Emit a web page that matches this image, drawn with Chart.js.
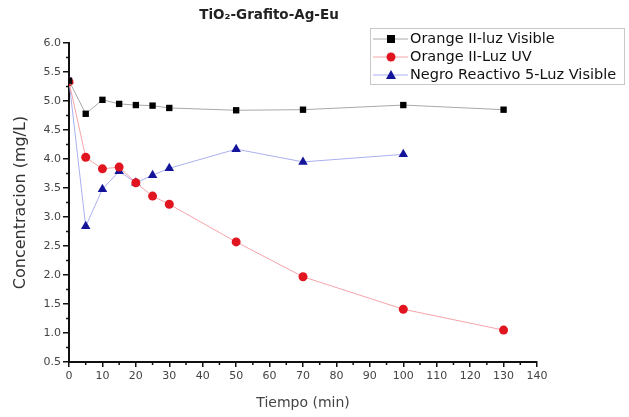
<!DOCTYPE html>
<html>
<head>
<meta charset="utf-8">
<script src="https://cdn.jsdelivr.net/npm/chart.js@4.4.1/dist/chart.umd.min.js"></script>
<style>
  html, body { margin: 0; padding: 0; background: #ffffff; }
  #wrap { width: 629px; height: 417px; }
</style>
</head>
<body>
<div id="wrap"><canvas id="c" width="629" height="417"></canvas></div>
<script>
// ---- data ----
const chartTitle = 'TiO\u2082-Grafito-Ag-Eu';
const xAxisTitle = 'Tiempo (min)';
const yAxisTitle = 'Concentracion (mg/L)';
const seriesNames = ['Orange II-luz Visible', 'Orange II-Luz UV', 'Negro Reactivo 5-Luz Visible'];
const timeOrange = [0, 5, 10, 15, 20, 25, 30, 50, 70, 100, 130];
const orangeVisible = [5.35, 4.78, 5.02, 4.95, 4.93, 4.92, 4.88, 4.84, 4.85, 4.93, 4.85];
const orangeUV = [5.33, 4.03, 3.83, 3.86, 3.59, 3.36, 3.22, 2.57, 1.97, 1.41, 1.05];
const timeNegro = [0, 5, 10, 15, 20, 25, 30, 50, 70, 100];
const negroVisible = [5.35, 2.84, 3.48, 3.79, 3.59, 3.72, 3.84, 4.17, 3.95, 4.08];
const xMin = 0, xMax = 140, xStep = 10;
const yMin = 0.5, yMax = 6.0, yStep = 0.5;

function pts(xs, ys) { return xs.map((x, i) => ({ x: x, y: ys[i] })); }

const FONT = '"DejaVu Sans", Verdana, sans-serif';

const minorTicks = {
  id: 'minorTicks',
  afterDraw(chart) {
    const ctx = chart.ctx;
    const xs = chart.scales.x, ys = chart.scales.y;
    const a = chart.chartArea;
    ctx.save();
    ctx.strokeStyle = '#111';
    ctx.lineWidth = 1.5;
    ctx.beginPath();
    for (let v = xMin + xStep / 2; v < xMax; v += xStep) {
      const px = xs.getPixelForValue(v);
      ctx.moveTo(px, a.bottom); ctx.lineTo(px, a.bottom + 3);
    }
    for (let v = yMin + yStep / 2; v < yMax; v += yStep) {
      const py = ys.getPixelForValue(v);
      ctx.moveTo(a.left, py); ctx.lineTo(a.left - 3, py);
    }
    ctx.stroke();
    ctx.restore();
  }
};

const customText = {
  id: 'customText',
  afterDraw(chart) {
    const ctx = chart.ctx;
    ctx.save();
    // title
    ctx.fillStyle = '#222';
    ctx.font = 'bold 13.5px ' + FONT;
    ctx.textAlign = 'center';
    ctx.textBaseline = 'middle';
    ctx.fillText(chartTitle, 269, 15);
    // legend
    const bx = 370, by = 28, bw = 254, bh = 56;
    ctx.strokeStyle = '#c8c8c8';
    ctx.lineWidth = 1;
    ctx.strokeRect(bx + 0.5, by + 0.5, bw, bh);
    const rowY = [39, 57, 75];
    ctx.beginPath();
    ctx.rect(bx, by, bw, bh);
    ctx.clip();
    chart.data.datasets.forEach((ds, i) => {
      const y = rowY[i];
      ctx.strokeStyle = ds.borderColor;
      ctx.lineWidth = 1;
      ctx.beginPath();
      ctx.moveTo(bx + 3, y); ctx.lineTo(bx + 38, y);
      ctx.stroke();
      ctx.fillStyle = ds.pointBackgroundColor;
      const mx = bx + 21;
      if (ds.pointStyle === 'rect') {
        ctx.fillRect(mx - 4, y - 4, 8, 8);
      } else if (ds.pointStyle === 'circle') {
        ctx.beginPath(); ctx.arc(mx, y, 4.5, 0, Math.PI * 2); ctx.fill();
      } else {
        ctx.beginPath(); ctx.moveTo(mx, y - 5); ctx.lineTo(mx + 5, y + 4); ctx.lineTo(mx - 5, y + 4); ctx.closePath(); ctx.fill();
      }
      ctx.fillStyle = '#111';
      ctx.font = '14.5px ' + FONT;
      ctx.textAlign = 'left';
      ctx.fillText(ds.label, bx + 40, y);
    });
    ctx.restore();
  }
};

new Chart(document.getElementById('c'), {
  type: 'scatter',
  data: {
    datasets: [
      {
        label: seriesNames[0], data: pts(timeOrange, orangeVisible), showLine: true,
        borderColor: '#a8a8a8', borderWidth: 1, pointStyle: 'rect', pointRadius: 4.5,
        pointBackgroundColor: '#000', pointBorderColor: '#000', pointBorderWidth: 0
      },
      {
        label: seriesNames[1], data: pts(timeOrange, orangeUV), showLine: true,
        borderColor: '#f5a3a8', borderWidth: 1, pointStyle: 'circle', pointRadius: 4.5,
        pointBackgroundColor: '#e0151f', pointBorderColor: '#e0151f', pointBorderWidth: 0
      },
      {
        label: seriesNames[2], data: pts(timeNegro, negroVisible), showLine: true,
        borderColor: '#a9b0f0', borderWidth: 1, pointStyle: 'triangle', pointRadius: 5.5,
        pointBackgroundColor: '#14149a', pointBorderColor: '#14149a', pointBorderWidth: 0
      }
    ]
  },
  options: {
    responsive: false,
    animation: false,
    devicePixelRatio: 1,
    layout: { padding: { left: 0, right: 92, top: 43, bottom: 0 } },
    plugins: { legend: { display: false }, title: { display: false }, tooltip: { enabled: false } },
    scales: {
      x: {
        type: 'linear', min: xMin, max: xMax,
        afterFit(s) { s.height = 55; },
        border: { display: true, color: '#111', width: 2 },
        grid: { drawOnChartArea: false, drawTicks: true, tickLength: 5, color: '#111', lineWidth: 1.5 },
        ticks: { stepSize: xStep, color: '#444', font: { family: FONT, size: 11 }, padding: 3, maxRotation: 0 },
        title: { display: true, text: xAxisTitle, color: '#444', font: { family: FONT, size: 14 }, padding: { top: 0, bottom: 5 } }
      },
      y: {
        type: 'linear', min: yMin, max: yMax,
        afterFit(s) { s.width = 69; },
        border: { display: true, color: '#111', width: 2 },
        grid: { drawOnChartArea: false, drawTicks: true, tickLength: 6, color: '#111', lineWidth: 1.5 },
        ticks: { stepSize: yStep, color: '#444', font: { family: FONT, size: 11 }, padding: 2,
                 callback: v => Number(v).toFixed(1) },
        title: { display: true, text: yAxisTitle, color: '#333', font: { family: FONT, size: 16 }, padding: { top: 11, bottom: 0 } }
      }
    }
  },
  plugins: [minorTicks, customText]
});
</script>
</body>
</html>
